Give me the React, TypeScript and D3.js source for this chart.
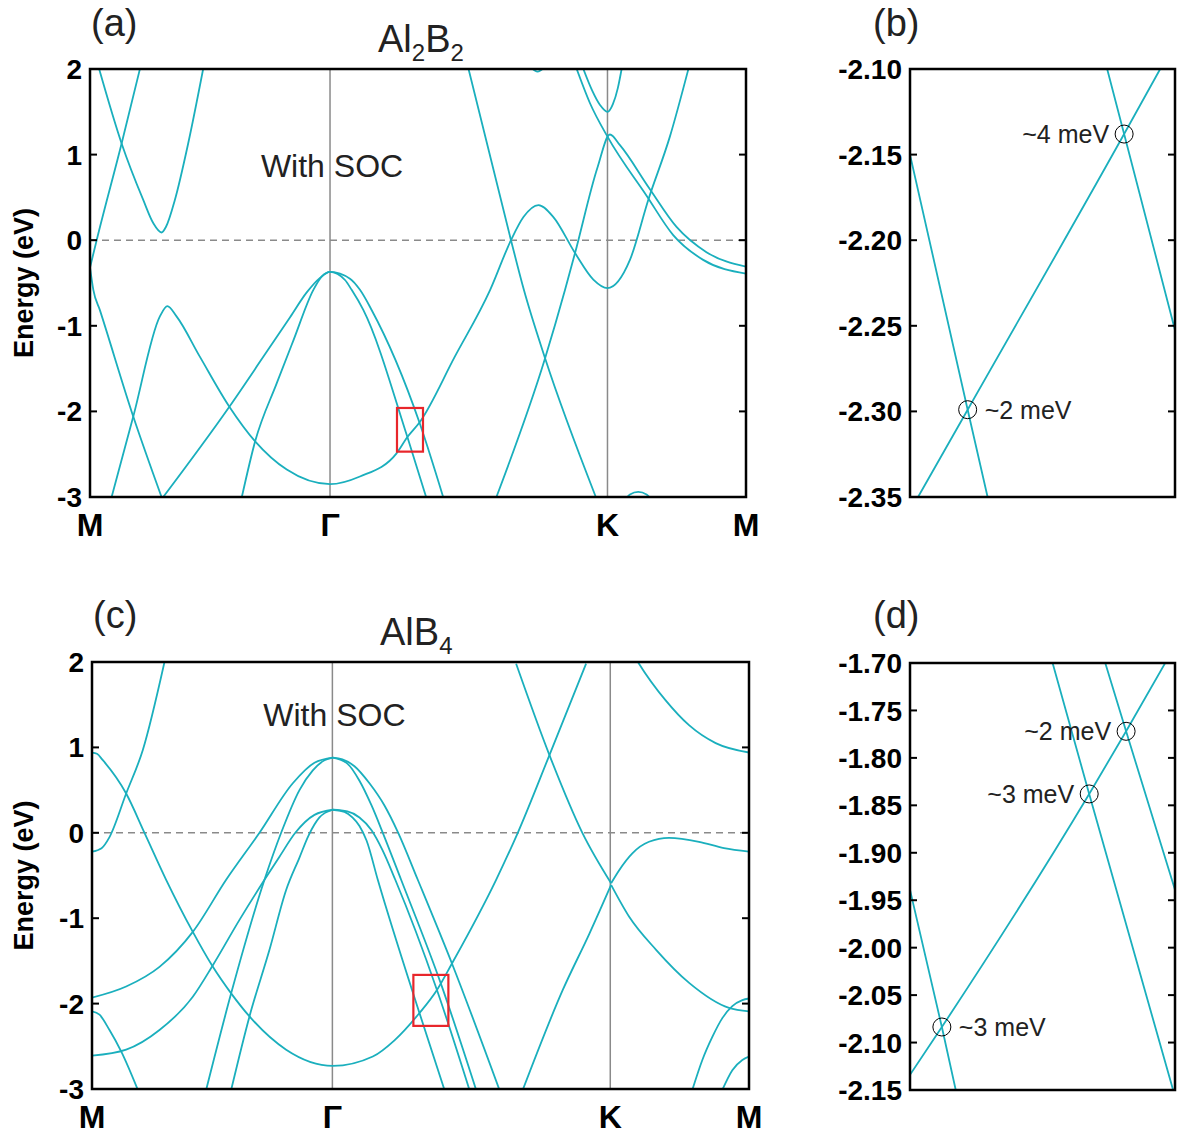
import React from 'react';
import * as d3 from 'd3';

type Pt = [number, number];

const BAND = '#1aafbd';
const GRAY = '#8a8a8a';
const FONT = '"Liberation Sans", Arial, Helvetica, sans-serif';

// high symmetry path M - Γ - K - M
const kPath = [0, 0.577, 1.244, 1.577];
const kNames = ['M', 'Γ', 'K', 'M'];
const energyTicks = [2, 1, 0, -1, -2, -3];

// ---- Al2B2 bands with SOC, [k, E (eV)]
const a2A: Pt[] = [[0.022, 2.0], [0.076, 1.13], [0.128, 0.47], [0.152, 0.2], [0.172, 0.09], [0.183, 0.16], [0.204, 0.47], [0.236, 1.13], [0.272, 2.0]];
const a2B: Pt[] = [[0, -0.32], [0.016, 0.0], [0.076, 1.13], [0.12, 2.0]];
const a2C: Pt[] = [[0, -0.32], [0.008, -0.58], [0.024, -0.82], [0.104, -2.06], [0.172, -3.0]];
const a2D: Pt[] = [[0.052, -3.0], [0.104, -2.06], [0.168, -0.89], [0.186, -0.77], [0.208, -0.89], [0.264, -1.36], [0.335, -1.945], [0.397, -2.35], [0.473, -2.68], [0.577, -2.85], [0.649, -2.76], [0.737, -2.49], [0.763, -2.3], [0.792, -2.13], [0.877, -1.36], [0.962, -0.58], [1.012, 0.0], [1.042, 0.27], [1.078, 0.41], [1.114, 0.27], [1.166, -0.15], [1.21, -0.46], [1.244, -0.56], [1.298, -0.23], [1.342, 0.47], [1.394, 1.21], [1.438, 1.99]];
const a2F: Pt[] = [[0.176, -3.0], [0.335, -1.945], [0.417, -1.36], [0.481, -0.9], [0.521, -0.61], [0.553, -0.44], [0.577, -0.37], [0.613, -0.465], [0.629, -0.58], [0.657, -0.815], [0.763, -2.3], [0.808, -3.0]];
const a2G: Pt[] = [[0.365, -3.0], [0.397, -2.35], [0.449, -1.67], [0.489, -1.17], [0.537, -0.58], [0.558, -0.42], [0.577, -0.37], [0.625, -0.45], [0.649, -0.58], [0.677, -0.815], [0.792, -2.13], [0.849, -3.0]];
const a2I: Pt[] = [[0.91, 2.0], [1.012, 0.0], [1.043, -0.58], [1.094, -1.38], [1.216, -3.0]];
const a2J: Pt[] = [[0.977, -3.0], [1.094, -1.38], [1.142, -0.58], [1.166, -0.15], [1.22, 0.85], [1.25, 1.235], [1.274, 1.11], [1.344, 0.61], [1.41, 0.155], [1.482, -0.14], [1.577, -0.31]];
const a2L: Pt[] = [[1.17, 2.0], [1.202, 1.6], [1.244, 1.21], [1.338, 0.52], [1.402, 0.06], [1.474, -0.23], [1.577, -0.39]];
const a2K: Pt[] = [[1.186, 2.0], [1.207, 1.75], [1.226, 1.58], [1.244, 1.5], [1.257, 1.59], [1.269, 1.78], [1.278, 2.0]];
const a2TopArc: Pt[] = [[1.046, 2.12], [1.062, 2.01], [1.076, 1.97], [1.09, 2.01], [1.106, 2.12]];
const a2BottomArc: Pt[] = [[1.28, -3.08], [1.298, -2.97], [1.318, -2.94], [1.338, -2.97], [1.356, -3.08]];
const al2b2Bands = [a2A, a2B, a2C, a2D, a2F, a2G, a2I, a2J, a2L, a2K, a2TopArc, a2BottomArc];

// ---- AlB4 bands with SOC
const b4P: Pt[] = [[0, 0.94], [0.012, 0.925], [0.026, 0.85], [0.082, 0.46], [0.126, 0.0], [0.178, -0.55], [0.242, -1.16], [0.289, -1.56], [0.334, -1.88], [0.378, -2.15], [0.466, -2.54], [0.578, -2.73], [0.674, -2.62], [0.726, -2.43], [0.786, -2.11], [0.828, -1.84], [0.864, -1.53], [0.97, -0.55], [1.022, 0.0], [1.098, 0.91], [1.186, 1.98]];
const b4R: Pt[] = [[0, -0.22], [0.023, -0.18], [0.042, -0.05], [0.082, 0.46], [0.122, 0.97], [0.174, 2.0]];
const b4S1: Pt[] = [[0, -1.93], [0.082, -1.8], [0.162, -1.57], [0.242, -1.16], [0.322, -0.55], [0.402, 0.0], [0.482, 0.58], [0.534, 0.82], [0.578, 0.88]];
const b4S2: Pt[] = [[0, -2.61], [0.082, -2.54], [0.162, -2.31], [0.242, -1.92], [0.289, -1.56], [0.354, -1.02], [0.414, -0.55], [0.45, -0.28], [0.488, 0.0], [0.534, 0.21], [0.578, 0.27]];
const b4S3: Pt[] = [[0.274, -3.01], [0.334, -1.88], [0.414, -0.55], [0.454, 0.0], [0.498, 0.5], [0.53, 0.73], [0.558, 0.85], [0.578, 0.88]];
const b4S4: Pt[] = [[0.334, -3.01], [0.378, -2.15], [0.426, -1.37], [0.466, -0.67], [0.498, -0.29], [0.52, -0.03], [0.546, 0.18], [0.578, 0.27]];
const b4Y: Pt[] = [[0, -2.09], [0.018, -2.13], [0.042, -2.31], [0.07, -2.56], [0.11, -3.01]];
const b4L1: Pt[] = [[0.578, 0.27], [0.606, 0.245], [0.625, 0.18], [0.642, 0.08], [0.659, -0.09], [0.686, -0.55], [0.786, -2.11], [0.846, -3.01]];
const b4L2: Pt[] = [[0.578, 0.27], [0.613, 0.25], [0.642, 0.18], [0.671, 0.03], [0.697, -0.2], [0.728, -0.55], [0.828, -1.84], [0.906, -3.01]];
const b4L3: Pt[] = [[0.578, 0.88], [0.613, 0.81], [0.642, 0.61], [0.671, 0.32], [0.698, 0.0], [0.742, -0.55], [0.837, -1.76], [0.922, -3.01]];
const b4L4: Pt[] = [[0.578, 0.88], [0.601, 0.86], [0.63, 0.78], [0.666, 0.58], [0.702, 0.32], [0.735, 0.0], [0.782, -0.55], [0.864, -1.53], [0.978, -3.01]];
const b4ULeft: Pt[] = [[1.018, 1.98], [1.098, 0.91], [1.177, 0.0], [1.246, -0.59]];
const b4URight: Pt[] = [[1.246, -0.59], [1.265, -0.44], [1.297, -0.24], [1.337, -0.105], [1.385, -0.06], [1.457, -0.105], [1.517, -0.18], [1.577, -0.22]];
const b4TLeft: Pt[] = [[1.034, -3.01], [1.13, -1.84], [1.194, -1.18], [1.246, -0.61]];
const b4TRight: Pt[] = [[1.246, -0.61], [1.289, -0.98], [1.354, -1.37], [1.434, -1.76], [1.529, -2.05], [1.577, -2.09]];
const b4V: Pt[] = [[1.29, 2.17], [1.313, 1.98], [1.377, 1.55], [1.433, 1.26], [1.497, 1.05], [1.577, 0.94]];
const b4W: Pt[] = [[1.441, -3.01], [1.465, -2.66], [1.489, -2.39], [1.513, -2.17], [1.537, -2.03], [1.561, -1.96], [1.577, -1.94]];
const b4X: Pt[] = [[1.513, -3.01], [1.537, -2.78], [1.561, -2.66], [1.577, -2.62]];
const alb4Bands = [b4P, b4R, b4S1, b4S2, b4S3, b4S4, b4Y, b4L1, b4L2, b4L3, b4L4, b4ULeft, b4URight, b4TLeft, b4TRight, b4V, b4W, b4X];

// zoom windows (red boxes): [k0, k1], [E top, E bottom]
const zoomAk: Pt = [0.738, 0.8005];
const zoomAe: Pt = [-1.96, -2.47];
const zoomCk: Pt = [0.7714, 0.8554];
const zoomCe: Pt = [-1.664, -2.261];

// ---- inset (b)
const insetBTicks = [-2.1, -2.15, -2.2, -2.25, -2.3, -2.35];
const insetBDiag: Pt[] = [[0.7399, -2.35], [0.7516, -2.299], [0.7885, -2.138], [0.797, -2.1]];
const insetBSteep1: Pt[] = [[0.738, -2.15], [0.7516, -2.299], [0.7563, -2.35]];
const insetBSteep2: Pt[] = [[0.7845, -2.1], [0.7885, -2.138], [0.8005, -2.2525]];
const insetBGaps = [
  { k: 0.7516, e: -2.299, text: '~2 meV', side: 'right' },
  { k: 0.7885, e: -2.138, text: '~4 meV', side: 'left' },
];

// ---- inset (d)
const insetDTicks = [-1.7, -1.75, -1.8, -1.85, -1.9, -1.95, -2.0, -2.05, -2.1, -2.15];
const insetDDiag: Pt[] = [[0.7714, -2.134], [0.7815, -2.0836], [0.8282, -1.838], [0.8399, -1.772], [0.8523, -1.7]];
const insetDSteep1: Pt[] = [[0.7714, -1.939], [0.7815, -2.0836], [0.7859, -2.15]];
const insetDSteep2: Pt[] = [[0.8166, -1.7], [0.8282, -1.838], [0.8548, -2.15]];
const insetDSteep3: Pt[] = [[0.8333, -1.7], [0.8399, -1.772], [0.8554, -1.939]];
const insetDGaps = [
  { k: 0.8399, e: -1.772, text: '~2 meV', side: 'left' },
  { k: 0.8282, e: -1.838, text: '~3 meV', side: 'left' },
  { k: 0.7815, e: -2.0836, text: '~3 meV', side: 'right' },
];

type Box = { x0: number; x1: number; y0: number; y1: number };

function Frame({ box, yTicks, y, fmt }: { box: Box; yTicks: number[]; y: (v: number) => number; fmt: (v: number) => string }) {
  return (
    <g>
      {yTicks.map((t) => (
        <g key={t}>
          <line x1={box.x0} x2={box.x0 + 7} y1={y(t)} y2={y(t)} stroke="#000" strokeWidth={2} />
          <line x1={box.x1 - 7} x2={box.x1} y1={y(t)} y2={y(t)} stroke="#000" strokeWidth={2} />
          <text x={box.x0 - 8} y={y(t)} dy="0.36em" textAnchor="end" fontSize={28} fontWeight="bold" fontFamily={FONT}>
            {fmt(t)}
          </text>
        </g>
      ))}
      <rect x={box.x0} y={box.y0} width={box.x1 - box.x0} height={box.y1 - box.y0} fill="none" stroke="#000" strokeWidth={2.5} />
    </g>
  );
}

function BandPanel({ id, box, bands, zoomK, zoomE, title, tag, labelY, socY }: {
  id: string; box: Box; bands: Pt[][]; zoomK: Pt; zoomE: Pt; title: [string, boolean][]; tag: string; labelY: number; socY: number;
}) {
  const x = d3.scaleLinear().domain([kPath[0], kPath[3]]).range([box.x0, box.x1]);
  const y = d3.scaleLinear().domain([-3, 2]).range([box.y1, box.y0]);
  const line = d3.line<Pt>().x((d) => x(d[0])).y((d) => y(d[1])).curve(d3.curveMonotoneX);
  const midY = (box.y0 + box.y1) / 2;
  return (
    <g>
      <defs>
        <clipPath id={id}>
          <rect x={box.x0} y={box.y0} width={box.x1 - box.x0} height={box.y1 - box.y0} />
        </clipPath>
      </defs>
      {kPath.slice(1, 3).map((k) => (
        <line key={k} x1={x(k)} x2={x(k)} y1={box.y0} y2={box.y1} stroke={GRAY} strokeWidth={1.5} />
      ))}
      <line x1={box.x0} x2={box.x1} y1={y(0)} y2={y(0)} stroke={GRAY} strokeWidth={1.5} strokeDasharray="7,5" />
      <g clipPath={`url(#${id})`}>
        {bands.map((b, i) => (
          <path key={i} d={line(b) || ''} fill="none" stroke={BAND} strokeWidth={1.8} />
        ))}
      </g>
      <rect x={x(zoomK[0])} y={y(zoomE[0])} width={x(zoomK[1]) - x(zoomK[0])} height={y(zoomE[1]) - y(zoomE[0])}
        fill="none" stroke="#e8262b" strokeWidth={2.2} />
      <Frame box={box} yTicks={energyTicks} y={y} fmt={(v) => `${v}`} />
      {kPath.map((k, i) => (
        <text key={i} x={x(k)} y={box.y1 + 39} textAnchor="middle" fontSize={32} fontWeight="bold" fontFamily={FONT}>
          {kNames[i]}
        </text>
      ))}
      <text transform={`translate(33,${midY}) rotate(-90)`} textAnchor="middle" fontSize={27} fontWeight="bold" fontFamily={FONT}>
        Energy (eV)
      </text>
      <text x={x(kPath[1]) + 2} y={socY} textAnchor="middle" fontSize={32} fontFamily={FONT} fill="#222">
        With SOC
      </text>
      <text x={box.x0 + 288} y={box.y0 - 17} fontSize={38} fontFamily={FONT} fill="#222">
        {title.map(([s, sub], i) => (
          <tspan key={i} fontSize={sub ? 24 : 38} dy={sub ? 9 : i > 0 ? -9 : 0}>{s}</tspan>
        ))}
      </text>
      <text x={box.x0 + 1} y={labelY} fontSize={38} fontFamily={FONT} fill="#222">{tag}</text>
    </g>
  );
}

function Inset({ id, box, kDom, ticks, lines, gaps, tag, labelY }: {
  id: string; box: Box; kDom: Pt; ticks: number[]; lines: Pt[][];
  gaps: { k: number; e: number; text: string; side: string }[]; tag: string; labelY: number;
}) {
  const x = d3.scaleLinear().domain(kDom).range([box.x0, box.x1]);
  const y = d3.scaleLinear().domain([ticks[ticks.length - 1], ticks[0]]).range([box.y1, box.y0]);
  const line = d3.line<Pt>().x((d) => x(d[0])).y((d) => y(d[1])).curve(d3.curveMonotoneX);
  return (
    <g>
      <defs>
        <clipPath id={id}>
          <rect x={box.x0} y={box.y0} width={box.x1 - box.x0} height={box.y1 - box.y0} />
        </clipPath>
      </defs>
      <g clipPath={`url(#${id})`}>
        {lines.map((l, i) => (
          <path key={i} d={line(l) || ''} fill="none" stroke={BAND} strokeWidth={1.8} />
        ))}
      </g>
      {gaps.map((g, i) => (
        <g key={i}>
          <circle cx={x(g.k)} cy={y(g.e)} r={9} fill="none" stroke="#000" strokeWidth={1} />
          <text x={x(g.k) + (g.side === 'right' ? 17 : -15)} y={y(g.e)} dy="0.36em"
            textAnchor={g.side === 'right' ? 'start' : 'end'} fontSize={25} fontFamily={FONT} fill="#222">
            {g.text}
          </text>
        </g>
      ))}
      <Frame box={box} yTicks={ticks} y={y} fmt={(v) => v.toFixed(2)} />
      <text x={box.x0 - 37} y={labelY} fontSize={38} fontFamily={FONT} fill="#222">{tag}</text>
    </g>
  );
}

export default function App() {
  const boxA: Box = { x0: 90, x1: 746, y0: 69, y1: 497 };
  const boxB: Box = { x0: 910, x1: 1175, y0: 69, y1: 497 };
  const boxC: Box = { x0: 92, x1: 749, y0: 662, y1: 1089 };
  const boxD: Box = { x0: 910, x1: 1175, y0: 663, y1: 1090 };
  return (
    <svg width={1177} height={1137} style={{ position: 'absolute', left: 0, top: 0, background: '#fff' }}>
      <rect width={1177} height={1137} fill="#fff" />
      <BandPanel id="clipA" box={boxA} bands={al2b2Bands} zoomK={zoomAk} zoomE={zoomAe}
        title={[['Al', false], ['2', true], ['B', false], ['2', true]]} tag="(a)" labelY={36} socY={177} />
      <BandPanel id="clipC" box={boxC} bands={alb4Bands} zoomK={zoomCk} zoomE={zoomCe}
        title={[['AlB', false], ['4', true]]} tag="(c)" labelY={628} socY={726} />
      <Inset id="clipB" box={boxB} kDom={zoomAk} ticks={insetBTicks}
        lines={[insetBDiag, insetBSteep1, insetBSteep2]} gaps={insetBGaps} tag="(b)" labelY={36} />
      <Inset id="clipD" box={boxD} kDom={zoomCk} ticks={insetDTicks}
        lines={[insetDDiag, insetDSteep1, insetDSteep2, insetDSteep3]} gaps={insetDGaps} tag="(d)" labelY={628} />
    </svg>
  );
}
